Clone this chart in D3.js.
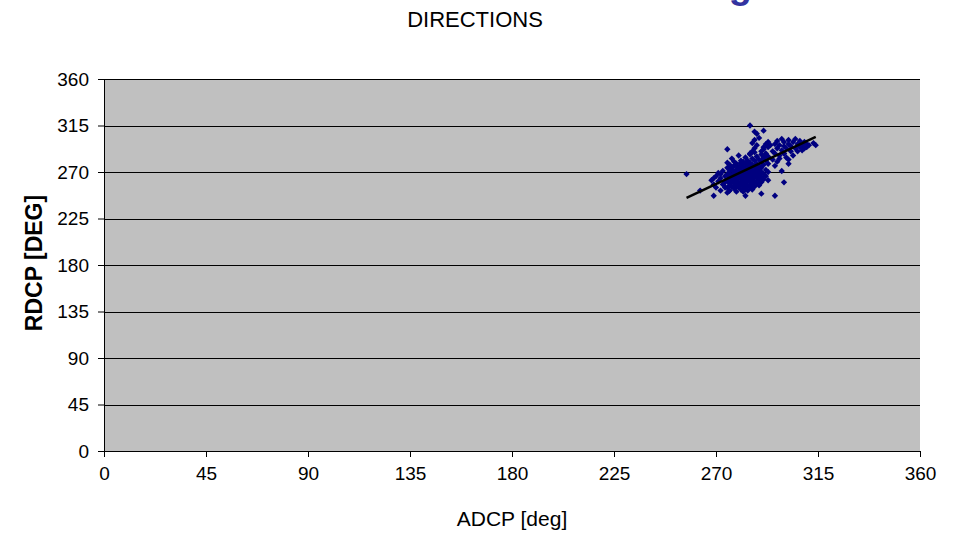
<!DOCTYPE html>
<html>
<head>
<meta charset="utf-8">
<script src="https://cdn.jsdelivr.net/npm/d3@7"></script>
<style>
  body { margin: 0; background: #fff; }
  text { font-family: "Liberation Sans", Arial, sans-serif; }
</style>
</head>
<body>
<div id="chart"></div>
<script>
// ADCP vs RDCP direction scatter, with linear trendline

const tickValues = [0, 45, 90, 135, 180, 225, 270, 315, 360];

// ADCP direction [deg] (x) and RDCP direction [deg] (y)
const adcpDeg = [
  257, 263, 269, 275, 285, 287, 288, 291, 283, 290, 296, 300, 302, 309, 313, 314, 299,
  268, 269, 270, 270, 271, 271, 272, 272, 273, 273, 274, 274, 275, 275, 276, 276, 269, 272, 274, 276,
  275, 275, 275, 275, 275, 276, 276, 276, 276, 276, 277, 277, 277, 277, 277,
  278, 278, 278, 278, 278, 278, 279, 279, 279, 279, 279, 279, 280, 280, 280, 280, 280, 280,
  281, 281, 281, 281, 281, 281, 281, 282, 282, 282, 282, 282, 282, 282,
  283, 283, 283, 283, 283, 283, 283, 284, 284, 284, 284, 284, 284, 284,
  285, 285, 285, 285, 285, 285, 285, 286, 286, 286, 286, 286, 286, 286,
  287, 287, 287, 287, 287, 287, 287, 288, 288, 288, 288, 288, 288,
  289, 289, 289, 289, 289, 289, 290, 290, 290, 290, 290, 290,
  291, 291, 291, 291, 291, 292, 292, 292, 292, 293, 293, 293, 293, 293,
  290, 291, 292, 293, 294, 295, 296, 296, 297, 297, 298, 298, 299, 299, 300, 300, 300, 301, 301,
  302, 302, 303, 303, 304, 304, 305, 305, 306, 306, 307, 307, 308, 308, 309, 310, 310, 311,
  295, 297, 296, 298, 300, 302, 292, 291,
  286, 287, 288, 289, 287, 286, 285,
  277, 279, 281, 283, 276, 278, 280, 282, 284, 286, 274, 277, 279, 281, 283, 285
];
const rdcpDeg = [
  268, 252, 247, 292, 315, 309, 307, 310, 247, 249, 247, 260, 278, 293, 298, 296, 271,
  262, 258, 266, 255, 261, 269, 252, 264, 258, 271, 255, 266, 250, 262, 274, 257, 264, 268, 261, 252,
  255, 262, 268, 274, 279, 252, 259, 265, 271, 277, 256, 261, 267, 273, 283,
  254, 259, 264, 270, 276, 280, 251, 257, 262, 267, 272, 278, 255, 260, 265, 269, 274, 286,
  253, 258, 263, 268, 272, 277, 281, 256, 261, 266, 270, 275, 280, 251,
  254, 259, 264, 268, 273, 278, 284, 257, 262, 266, 271, 276, 281, 252,
  255, 260, 265, 269, 274, 279, 287, 258, 263, 267, 272, 277, 283, 253,
  256, 261, 266, 270, 275, 281, 289, 259, 264, 268, 273, 278, 285,
  262, 267, 271, 276, 282, 257, 260, 265, 270, 274, 280, 287,
  263, 268, 277, 284, 292, 266, 272, 281, 288, 262, 270, 278, 285, 294,
  290, 294, 297, 299, 296, 290, 288, 297, 293, 300, 286, 296, 291, 302, 288, 295, 299, 293, 284,
  297, 301, 290, 295, 299, 286, 293, 302, 297, 290, 300, 294, 296, 291, 299, 297, 294, 296,
  282, 280, 276, 283, 288, 282, 286, 283,
  298, 301, 296, 303, 293, 290, 288,
  263, 266, 269, 271, 268, 262, 258, 261, 267, 270, 260, 275, 276, 279, 262, 264
];

// linear trendline end points
const trendX = [257, 314];
const trendY = [245, 304];

const W = 960, H = 534;
const margin = { top: 79, right: 40, bottom: 83, left: 104 };
const width = 920 - margin.left;
const height = 451 - margin.top;

const svg = d3.select('#chart')
  .append('svg')
  .attr('width', W)
  .attr('height', H);

// main title sits above the picture; only the descender of its last letter shows
svg.append('text')
  .attr('x', 752)
  .attr('y', -2)
  .attr('text-anchor', 'end')
  .style('font-size', '38px')
  .style('font-weight', 'bold')
  .style('fill', '#3333a0')
  .text('Heading');

svg.append('text')
  .attr('x', 475)
  .attr('y', 27)
  .attr('text-anchor', 'middle')
  .style('font-size', '22px')
  .text('DIRECTIONS');

const g = svg.append('g')
  .attr('transform', `translate(${margin.left},${margin.top})`);

const x = d3.scaleLinear().domain([0, 360]).range([0, width]);
const y = d3.scaleLinear().domain([0, 360]).range([height, 0]);

// plot area
g.append('rect')
  .attr('width', width)
  .attr('height', height)
  .attr('fill', '#c0c0c0');

// horizontal gridlines
g.selectAll('.grid')
  .data(tickValues.slice(1))
  .enter()
  .append('line')
  .attr('x1', 0)
  .attr('x2', width)
  .attr('y1', d => Math.round(y(d)) + 0.5)
  .attr('y2', d => Math.round(y(d)) + 0.5)
  .attr('stroke', '#000')
  .attr('stroke-width', 1);

// axes
const xAxis = g.append('g')
  .attr('transform', `translate(0,${height})`)
  .call(d3.axisBottom(x).tickValues(tickValues).tickSize(6).tickPadding(10));
const yAxis = g.append('g')
  .call(d3.axisLeft(y).tickValues(tickValues).tickSize(6).tickPadding(9));

[xAxis, yAxis].forEach(a => {
  a.select('.domain').attr('stroke', '#000');
  a.selectAll('.tick line').attr('stroke', '#000');
  a.selectAll('.tick text')
    .style('font-size', '19px')
    .style('font-family', '"Liberation Sans", Arial, sans-serif')
    .attr('fill', '#000');
});

// points: square markers turned 45 degrees (Excel-style diamond)
const pts = adcpDeg.map((a, i) => [a, rdcpDeg[i]]);
g.selectAll('.pt')
  .data(pts)
  .enter()
  .append('path')
  .attr('class', 'pt')
  .attr('d', d3.symbol().type(d3.symbolSquare).size(20))
  .attr('transform', d => `translate(${x(d[0])},${y(d[1])}) rotate(45)`)
  .attr('fill', '#000080');

// trendline
g.append('line')
  .attr('x1', x(trendX[0]))
  .attr('y1', y(trendY[0]))
  .attr('x2', x(trendX[1]))
  .attr('y2', y(trendY[1]))
  .attr('stroke', '#000')
  .attr('stroke-width', 2.5);

// axis titles
svg.append('text')
  .attr('x', 512)
  .attr('y', 526)
  .attr('text-anchor', 'middle')
  .style('font-size', '21px')
  .text('ADCP [deg]');

svg.append('text')
  .attr('transform', 'translate(42,263) rotate(-90)')
  .attr('text-anchor', 'middle')
  .style('font-size', '23px')
  .style('font-weight', 'bold')
  .text('RDCP [DEG]');
</script>
</body>
</html>
